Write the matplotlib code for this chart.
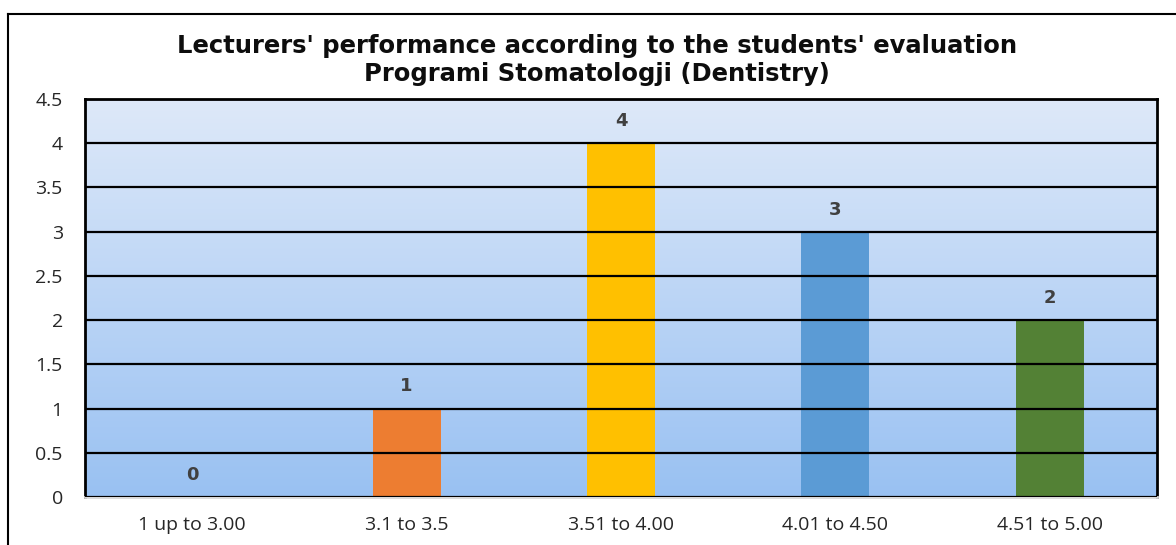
import numpy as np
import matplotlib.pyplot as plt
from matplotlib.lines import Line2D

categories = ['1 up to 3.00', '3.1 to 3.5', '3.51 to 4.00', '4.01 to 4.50', '4.51 to 5.00']
counts = [0, 1, 4, 3, 2]
bar_colors = ['#4472C4', '#ED7D31', '#FFC000', '#5B9BD5', '#538135']
title = "Lecturers' performance according to the students' evaluation\nProgrami Stomatologji (Dentistry)"

W, H = 1176, 545
fig = plt.figure(figsize=(W / 100, H / 100), dpi=100)
ax = fig.add_axes([85 / W, 1 - 497 / H, (1157 - 85) / W, (497 - 99) / H])

x = np.arange(len(categories))

# gradient background
grad = np.linspace(0, 1, 256).reshape(-1, 1)
top_c = np.array([0xde, 0xe9, 0xf9]) / 255
bot_c = np.array([0x99, 0xc1, 0xf2]) / 255
img = top_c * (1 - grad[..., None]) + bot_c * grad[..., None]
ax.imshow(img, aspect='auto', extent=[-0.5, 4.5, 0, 4.5], origin='upper', zorder=0)

ax.set_xlim(-0.5, 4.5)
ax.set_ylim(0, 4.5)
ax.set_yticks(np.arange(0, 4.51, 0.5))
ax.set_yticklabels(['0', '0.5', '1', '1.5', '2', '2.5', '3', '3.5', '4', '4.5'])
ax.yaxis.grid(True, color='black', linewidth=1.6, zorder=1)
ax.set_axisbelow(False)

bars = ax.bar(x, counts, width=0.317, color=bar_colors, zorder=2)
for xi, v in zip(x, counts):
    ax.text(xi, v + 0.25, str(v), ha='center', va='center', fontsize=13,
            fontweight='bold', color='#404040', family='DejaVu Sans', zorder=3)

ax.set_xticks(x)
ax.set_xticklabels(categories)
ax.tick_params(axis='both', length=0, labelsize=14, colors='#262626')
ax.tick_params(axis='y', pad=16)
ax.tick_params(axis='x', pad=14)
for lab in ax.get_xticklabels() + ax.get_yticklabels():
    lab.set_family('Open Sans')

for s in ['left', 'right', 'top']:
    ax.spines[s].set_color('black')
    ax.spines[s].set_linewidth(2)
ax.spines['bottom'].set_color('#d9d9d9')
ax.spines['bottom'].set_linewidth(2)

fig.text(0.508, 1 - 60 / H, title, ha='center', va='center', fontsize=17.5,
         fontweight='bold', family='DejaVu Sans', linespacing=1.2, color='#0d0d0d')

# outer frame (left and top edges)
fig.add_artist(Line2D([8 / W, 8 / W], [0, 1 - 14 / H], color='black', lw=1.5, transform=fig.transFigure))
fig.add_artist(Line2D([8 / W, 1], [1 - 14 / H, 1 - 14 / H], color='black', lw=1.5, transform=fig.transFigure))

fig.savefig('out.png', dpi=100)
